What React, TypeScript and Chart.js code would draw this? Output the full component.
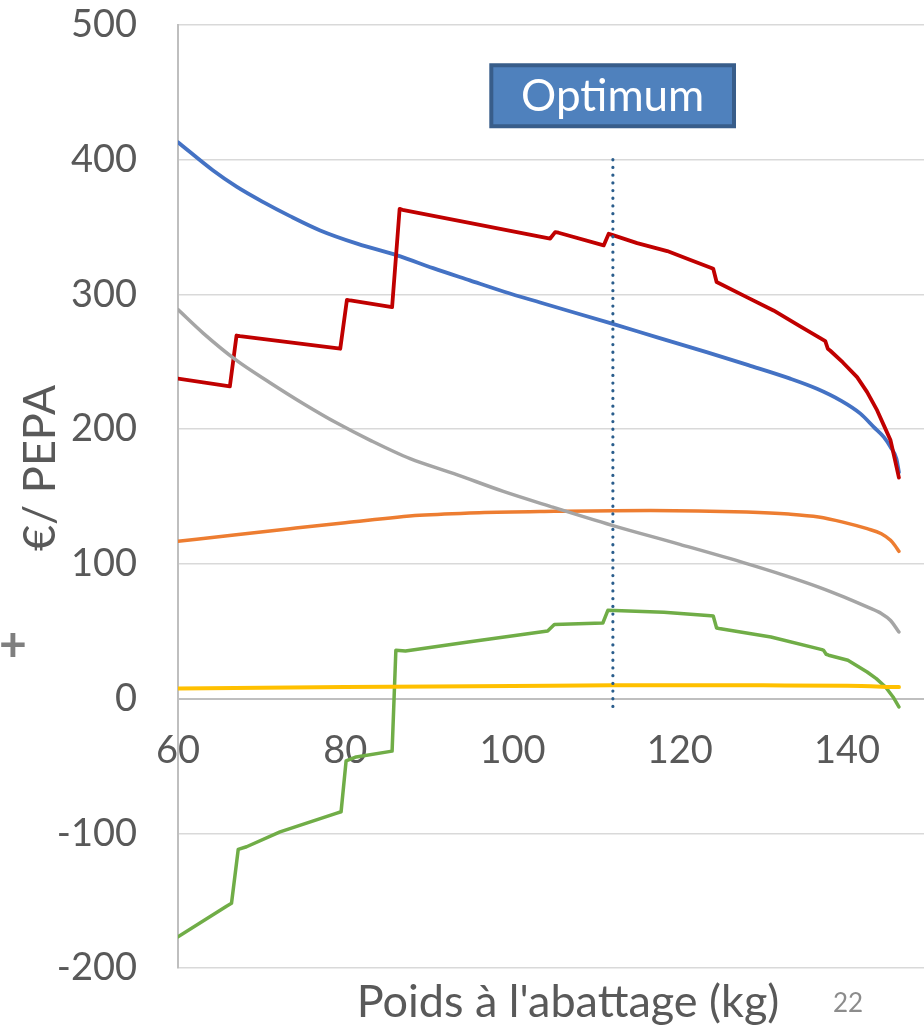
import React, { useEffect, useRef } from 'react';
import { Chart, registerables } from 'chart.js';

Chart.register(...registerables);

// ---- data ----
const xMin = 60;
const xMax = 149.2;
const xStep = 20;
const yMin = -200;
const yMax = 500;
const yStep = 100;

const xTitle = "Poids à l'abattage (kg)";
const yTitle = '€/ PEPA';
const boxLabel = 'Optimum';
const pageNumber = '22';

// red series
const redX = [60, 66.2, 67.0, 67.4, 79.4, 80.2, 80.6, 85.6, 86.5, 87.0, 95, 104.5, 105.1, 105.5, 110.9, 111.5, 112.0, 114.9, 118.5, 121.2, 123.7, 124.0, 124.4, 124.7, 128.0, 131.2, 134.4, 137.1, 137.4, 137.7, 138.0, 139.5, 141.2, 142.4, 143.6, 144.4, 145.2, 145.7, 146.2];
const redY = [237.5, 231.7, 269.5, 269.0, 259.7, 296.0, 295.5, 290.6, 363.5, 362.5, 353, 341.5, 346.3, 345.8, 336.4, 345.0, 344.0, 338.1, 332.2, 325.8, 319.8, 319.0, 309.2, 308.3, 298.0, 288.1, 276.3, 266.5, 265.4, 259.7, 258.2, 249.5, 238.6, 227.5, 213.9, 202.8, 191.7, 178, 164];

// blue series
const blueX = [60, 64.2, 67.0, 70.2, 73.4, 77, 81.5, 86.2, 90.5, 94.9, 99, 103.3, 111.9, 117.5, 123.2, 128.2, 133.2, 136.4, 139.2, 141.6, 143.2, 144.4, 145.2, 145.9, 146.2];
const blueY = [413, 392, 380, 368.5, 358.1, 347.5, 337.5, 329, 319.5, 310.4, 302, 294, 278.3, 267.8, 257.2, 247.5, 237.5, 230, 221.4, 211.5, 201.5, 194.1, 186.7, 178.1, 168];

// gray series
const grayX = [60, 63, 67, 71, 75, 79, 83, 87.75, 93, 98.9, 104.5, 111.9, 120, 128, 132.5, 136.6, 139.6, 142.4, 144.1, 145.2, 146.2];
const grayY = [288.7, 271.3, 251, 234.5, 218.9, 204.5, 191.7, 178.1, 167, 153.8, 142.7, 128.6, 114.5, 100.2, 91.5, 82.8, 75.5, 68, 63.1, 58, 49.4];

// orange series
const orangeX = [60, 66.7, 73.4, 80, 88.9, 96, 105, 116.5, 128, 133, 136.6, 139.5, 142.4, 144.1, 145.2, 145.7, 146.2];
const orangeY = [116.7, 121.5, 126.1, 130.5, 136, 138, 139, 139.7, 138.5, 137, 134.8, 131, 126.1, 122.4, 117.5, 113.8, 109.3];

// yellow series
const yellowX = [60, 80, 100, 112, 130, 140, 146.2];
const yellowY = [7.4, 8.5, 9.3, 9.9, 9.8, 9.5, 8.5];

// green series
const greenX = [60, 65.8, 66.4, 67.2, 68.2, 72.2, 79.0, 79.5, 80.1, 81.3, 85.6, 86.05, 87.2, 94.7, 104.2, 105.0, 110.8, 111.4, 112.2, 118.1, 123.7, 124.0, 124.4, 124.7, 130.9, 137.0, 137.2, 137.5, 137.8, 140.1, 142.4, 143.5, 144.6, 145.5, 146.2];
const greenY = [-176.9, -154.1, -152, -112, -110, -99, -85, -84, -46.3, -43.3, -39, 35.8, 35.3, 42, 50.2, 55, 56.1, 65.5, 65.3, 64.1, 61.5, 61.3, 52.4, 52.0, 45.7, 36.3, 35.8, 32.9, 32.2, 28.4, 19.7, 14.8, 8.6, 1.2, -6.2];

// optimum marker
const optimumX = [112, 112];
const optimumY = [400, -7];

const FONT = 'Lato, "Open Sans", sans-serif';
const TEXT = '#595959';

const pts = (xs: number[], ys: number[]) => xs.map((x, i) => ({ x, y: ys[i] }));

const overlayPlugin = {
  id: 'overlayTexts',
  afterDraw(chart: any) {
    const { ctx, chartArea } = chart;
    ctx.save();
    // y title
    ctx.save();
    ctx.translate(40, 468);
    ctx.rotate(-Math.PI / 2);
    ctx.font = `45px ${FONT}`;
    ctx.fillStyle = TEXT;
    ctx.textAlign = 'center';
    ctx.textBaseline = 'middle';
    ctx.fillText(yTitle, 0, 0);
    ctx.restore();

    // x title
    ctx.font = `45px ${FONT}`;
    ctx.fillStyle = TEXT;
    ctx.textAlign = 'center';
    ctx.textBaseline = 'middle';
    ctx.fillText(xTitle, chartArea.left + 390, 1002);

    // page number
    ctx.font = `26px ${FONT}`;
    ctx.fillStyle = '#8C8C8C';
    ctx.fillText(pageNumber, 848, 1004);

    // plus sign
    ctx.font = `bold 48px ${FONT}`;
    ctx.fillStyle = '#7F7F7F';
    ctx.fillText('+', 13, 646);

    // Optimum box
    ctx.fillStyle = '#4F81BD';
    ctx.strokeStyle = '#385D8A';
    ctx.lineWidth = 4;
    ctx.beginPath();
    ctx.rect(491.3, 65.3, 242.7, 61);
    ctx.fill();
    ctx.stroke();
    ctx.font = `44px ${FONT}`;
    ctx.fillStyle = '#FFFFFF';
    ctx.fillText(boxLabel, 612.7, 97);
    ctx.restore();
  },
};

export default function App() {
  const ref = useRef<HTMLCanvasElement | null>(null);
  useEffect(() => {
    if (!ref.current) return;
    const smooth = {
      pointRadius: 0,
      fill: false,
      cubicInterpolationMode: 'monotone' as const,
      borderJoinStyle: 'round' as const,
      borderCapStyle: 'round' as const,
    };
    const stepped = {
      pointRadius: 0,
      fill: false,
      tension: 0,
      borderJoinStyle: 'round' as const,
      borderCapStyle: 'round' as const,
    };
    const chart = new Chart(ref.current, {
      type: 'line',
      data: {
        datasets: [
          {
            label: 'Optimum',
            data: pts(optimumX, optimumY),
            borderColor: '#2A5D8C',
            borderWidth: 3.2,
            borderDash: [0.1, 7.6],
            borderCapStyle: 'round',
            pointRadius: 0,
            fill: false,
          },
          { label: 'jaune', data: pts(yellowX, yellowY), borderColor: '#FFC000', borderWidth: 4, ...smooth },
          { label: 'vert', data: pts(greenX, greenY), borderColor: '#70AD47', borderWidth: 3.5, ...stepped },
          { label: 'gris', data: pts(grayX, grayY), borderColor: '#A5A5A5', borderWidth: 3.5, ...smooth },
          { label: 'orange', data: pts(orangeX, orangeY), borderColor: '#ED7D31', borderWidth: 3.5, ...smooth },
          { label: 'rouge', data: pts(redX, redY), borderColor: '#C00000', borderWidth: 3.8, ...stepped },
          { label: 'bleu', data: pts(blueX, blueY), borderColor: '#4472C4', borderWidth: 3.8, ...smooth },
        ],
      },
      options: {
        responsive: false,
        animation: false,
        devicePixelRatio: 1,
        layout: { padding: { top: 25, bottom: 63, left: 0, right: 0 } },
        plugins: { legend: { display: false }, tooltip: { enabled: false }, title: { display: false } },
        scales: {
          x: {
            type: 'linear',
            min: xMin,
            max: xMax,
            position: { y: 0 } as any,
            grid: { display: false, drawTicks: false },
            border: { display: true, color: '#BFBFBF', width: 2 },
            ticks: {
              stepSize: xStep,
              includeBounds: false,
              font: { family: FONT, size: 38 },
              color: TEXT,
              padding: 29,
              maxRotation: 0,
            },
          },
          y: {
            type: 'linear',
            min: yMin,
            max: yMax,
            position: 'left',
            grid: { color: '#D9D9D9', lineWidth: 1.5, drawTicks: false },
            border: { display: true, color: '#BFBFBF', width: 2 },
            ticks: {
              stepSize: yStep,
              font: { family: FONT, size: 38 },
              color: TEXT,
              padding: 41,
            },
            afterFit: (s: any) => {
              s.width = 178;
              s.paddingTop = 0;
              s.paddingBottom = 0;
            },
          },
        },
      },
      plugins: [overlayPlugin],
    });
    return () => chart.destroy();
  }, []);
  return (
    <div style={{ position: 'absolute', left: 0, top: 0, width: 924, height: 1031, background: '#fff' }}>
      <canvas ref={ref} width={924} height={1031} />
    </div>
  );
}
